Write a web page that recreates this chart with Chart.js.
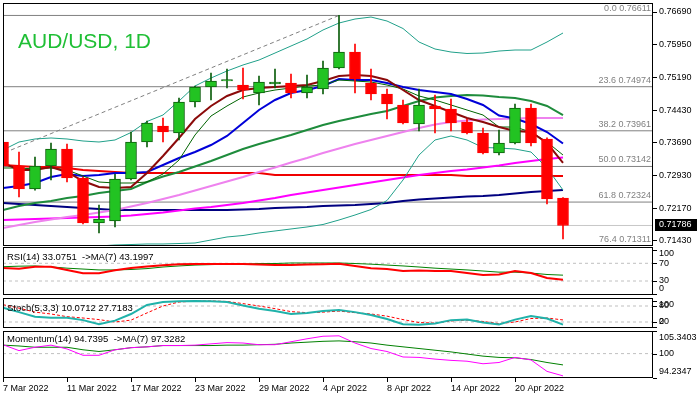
<!DOCTYPE html>
<html>
<head>
<meta charset="utf-8">
<script src="https://cdn.jsdelivr.net/npm/chart.js@4.4.1/dist/chart.umd.min.js"></script>
<style>
  body { margin: 0; background: #fff; width: 697px; height: 396px; position: relative; overflow: hidden;
         font-family: "Liberation Sans", Arial, sans-serif; }
  canvas { position: absolute; left: 0; }
  .cap { position: absolute; left: 7px; font-size: 9.5px; line-height: 11px; color: #000; white-space: pre; }
  #title { position: absolute; left: 18px; top: 30px; font-size: 21px; line-height: 21px; color: #1fbf35; }
</style>
</head>
<body>
<canvas id="main" width="697" height="248" style="top:0"></canvas>
<canvas id="rsiC" width="697" height="52" style="top:246px"></canvas>
<canvas id="stoC" width="697" height="33" style="top:297px"></canvas>
<canvas id="momC" width="697" height="66" style="top:330px"></canvas>
<div id="title">AUD/USD, 1D</div>
<div class="cap" id="rsiCap" style="top:251px"></div>
<div class="cap" id="stoCap" style="top:302px"></div>
<div class="cap" id="momCap" style="top:333px"></div>
<script>
// daily bars, 7 Mar - 25 Apr 2022
const dates = ['7 Mar 2022','8 Mar 2022','9 Mar 2022','10 Mar 2022','11 Mar 2022',
  '14 Mar 2022','15 Mar 2022','16 Mar 2022','17 Mar 2022','18 Mar 2022',
  '21 Mar 2022','22 Mar 2022','23 Mar 2022','24 Mar 2022','25 Mar 2022',
  '28 Mar 2022','29 Mar 2022','30 Mar 2022','31 Mar 2022','1 Apr 2022',
  '4 Apr 2022','5 Apr 2022','6 Apr 2022','7 Apr 2022','8 Apr 2022',
  '11 Apr 2022','12 Apr 2022','13 Apr 2022','14 Apr 2022','15 Apr 2022',
  '18 Apr 2022','19 Apr 2022','20 Apr 2022','21 Apr 2022','22 Apr 2022','25 Apr 2022'];
const dateTicks = [0, 4, 8, 12, 16, 20, 24, 28, 32];

const open  = [0.73704,0.73153,0.72624,0.73153,0.73543,0.72877,0.71843,0.71889,0.72854,0.73704,0.74071,0.73911,0.74623,0.74967,0.75105,0.75013,0.74829,0.75036,0.75059,0.74829,0.74921,0.75404,0.75771,0.75059,0.74806,0.74554,0.74117,0.74531,0.74462,0.74163,0.73911,0.73451,0.73681,0.74485,0.73773,0.72418];
const high  = [0.74393,0.73474,0.73359,0.73681,0.73658,0.72900,0.72257,0.72969,0.73934,0.74186,0.74255,0.74715,0.74990,0.75289,0.75381,0.75404,0.75220,0.75381,0.75266,0.75243,0.75565,0.76611,0.75955,0.75381,0.74921,0.74669,0.74921,0.74784,0.74692,0.74232,0.74025,0.73979,0.74577,0.74577,0.73800,0.72430];
const low   = [0.73061,0.72441,0.72600,0.72831,0.72785,0.71820,0.71614,0.71752,0.72831,0.73589,0.73704,0.73750,0.74508,0.74669,0.74944,0.74692,0.74554,0.74944,0.74715,0.74715,0.74806,0.75380,0.74829,0.74669,0.74232,0.74120,0.73957,0.73911,0.73957,0.73888,0.73428,0.73405,0.73658,0.73612,0.72280,0.71476];
const close = [0.73153,0.72624,0.73153,0.73543,0.72877,0.71843,0.71935,0.72854,0.73704,0.74140,0.73934,0.74623,0.74967,0.75105,0.75140,0.74898,0.75082,0.75082,0.74829,0.74967,0.75404,0.75771,0.75151,0.74806,0.74577,0.74140,0.74554,0.74462,0.74140,0.73911,0.73451,0.73681,0.74485,0.73681,0.72395,0.71786];

// moving averages on the price chart
const maFast    = [0.73222,0.73061,0.73061,0.73130,0.73015,0.72808,0.72670,0.72647,0.72670,0.72992,0.73382,0.73796,0.74232,0.74531,0.74761,0.74898,0.74944,0.74967,0.74990,0.75013,0.75105,0.75220,0.75243,0.75220,0.75128,0.74898,0.74669,0.74531,0.74393,0.74255,0.74163,0.74048,0.73957,0.73934,0.73681,0.73222];
const maTen     = [0.73107,0.73107,0.73084,0.73107,0.73061,0.72923,0.72785,0.72762,0.72762,0.72785,0.72969,0.73290,0.73865,0.74301,0.74531,0.74738,0.74829,0.74898,0.74944,0.74990,0.75013,0.75128,0.75105,0.75082,0.75013,0.74921,0.74761,0.74669,0.74554,0.74439,0.74324,0.74048,0.74048,0.73934,0.73704,0.73405];
const maBlue    = [0.72647,0.72693,0.72762,0.72900,0.72969,0.72923,0.72946,0.72992,0.72992,0.73015,0.73176,0.73336,0.73474,0.73635,0.73842,0.74140,0.74439,0.74669,0.74829,0.74898,0.74990,0.75151,0.75128,0.75128,0.75059,0.74967,0.74898,0.74852,0.74806,0.74692,0.74554,0.74313,0.74244,0.74117,0.73934,0.73670];
const bbMid     = [0.72142,0.72234,0.72303,0.72349,0.72418,0.72464,0.72532,0.72578,0.72624,0.72785,0.72912,0.73015,0.73142,0.73267,0.73405,0.73543,0.73658,0.73762,0.73865,0.73979,0.74094,0.74186,0.74267,0.74347,0.74416,0.74531,0.74646,0.74726,0.74761,0.74784,0.74772,0.74738,0.74715,0.74646,0.74531,0.74324];
const bbUp      = [0.73520,0.73704,0.73773,0.73796,0.73773,0.73727,0.73704,0.73750,0.73922,0.74175,0.74324,0.74646,0.74990,0.75174,0.75335,0.75473,0.75587,0.75748,0.75909,0.76070,0.76277,0.76437,0.76529,0.76575,0.76483,0.76311,0.76001,0.75840,0.75771,0.75737,0.75748,0.75794,0.75817,0.75817,0.76001,0.76208];
const bbLow     = [0.70764,0.70764,0.70833,0.70948,0.71062,0.71200,0.71315,0.71338,0.71349,0.71361,0.71361,0.71372,0.71384,0.71453,0.71522,0.71556,0.71614,0.71660,0.71706,0.71752,0.71809,0.71912,0.72027,0.72153,0.72360,0.72831,0.73405,0.73750,0.73842,0.73750,0.73578,0.73566,0.73543,0.73474,0.73107,0.72601];
const maViolet  = [0.71729,0.71798,0.71867,0.71924,0.71981,0.72027,0.72084,0.72142,0.72222,0.72303,0.72395,0.72486,0.72590,0.72693,0.72797,0.72900,0.73015,0.73118,0.73233,0.73336,0.73451,0.73555,0.73658,0.73750,0.73842,0.73934,0.74025,0.74106,0.74163,0.74198,0.74221,0.74232,0.74244,0.74255,0.74255,0.74255];
const maMagenta = [0.71912,0.71924,0.71935,0.71947,0.71958,0.71970,0.71981,0.71993,0.72016,0.72050,0.72084,0.72130,0.72176,0.72211,0.72257,0.72303,0.72360,0.72418,0.72486,0.72544,0.72601,0.72659,0.72716,0.72774,0.72831,0.72889,0.72946,0.72992,0.73038,0.73072,0.73118,0.73164,0.73222,0.73267,0.73313,0.73348];
const maNavy    = [0.72303,0.72280,0.72257,0.72234,0.72211,0.72188,0.72165,0.72142,0.72142,0.72142,0.72142,0.72142,0.72142,0.72142,0.72142,0.72153,0.72165,0.72188,0.72199,0.72211,0.72234,0.72245,0.72257,0.72280,0.72303,0.72349,0.72383,0.72406,0.72429,0.72452,0.72464,0.72486,0.72521,0.72555,0.72578,0.72601];
const maRed     = [0.73176,0.73153,0.73130,0.73130,0.73107,0.73061,0.73038,0.73015,0.72992,0.72992,0.72992,0.72992,0.72992,0.72992,0.72992,0.72992,0.72992,0.72946,0.72946,0.72946,0.72946,0.72946,0.72946,0.72946,0.72946,0.72946,0.72946,0.72946,0.72946,0.72923,0.72923,0.72923,0.72923,0.72923,0.72923,0.72923];

// fibonacci retracement (28 Jan low -> 5 Apr high)
const fibPct   = ['0.0', '23.6', '38.2', '50.0', '61.8', '76.4'];
const fibLevel = [0.76611, 0.74974, 0.73961, 0.73142, 0.72324, 0.71311];
const fibTrendX = [-25, 21];
const fibTrendY = [0.69675, 0.76611];
const priceTicks = [0.76690, 0.75950, 0.75190, 0.74430, 0.73690, 0.72930, 0.72170, 0.71430];

// oscillators
const rsi    = [59.3,57.8,62.3,62.3,54.9,47.4,47.4,54.2,59.4,63,65.7,67.7,68.4,68.4,68.4,68.4,67,66,66,67,68,69,64,59,57,52.6,54,52.6,52.6,48,43.6,44.6,52.6,48,37,33.0751];
const rsiMa  = [62.3,63.5,64,62,59,57,55,55,56,58,61.6,64,66,67,68,68,69.5,69.5,70.7,70.7,70.7,70.7,69.5,68,66,64,61.6,59,57,55,52.6,50,50,48,44.7,43.1997];
const stochK = [74,57,40,36,36,27,12,25,50,84,95,98,99,98,95,82,70,61,50,54,61,65,57,46,31,12,10,14,27,29,18,11,29,42,33,10.0712];
const stochD = [85,72,57,50,40,35,29,20,27,54,80,95,98,99,97,89,80,70,59,55,57,61,55,50,42,29,18,16,24,27,22,14,20,33,35,27.7183];
const mom    = [102.1,100.7,101.5,102.0,101.1,99.6,99.6,100.9,101.4,101.6,101.9,101.9,102.0,102.3,102.6,102.5,102.1,102.1,102.8,103.5,104.1,104.2,102.5,101.2,100.5,99.2,99.1,98.7,98.4,98.2,97.6,97.9,99.1,98.5,95.8,94.7395];
const momMa  = [102.0,101.8,101.5,101.5,101.5,100.9,100.5,100.9,101.4,101.6,101.9,101.9,101.9,101.9,102.0,102.0,102.1,102.2,102.5,102.7,102.9,103.0,102.8,102.5,102.0,101.6,101.2,100.8,100.4,99.9,99.4,99.1,99.0,98.6,97.9,97.3282];

const FONT = '"Liberation Sans", Arial, sans-serif';
Chart.defaults.font.family = FONT;
const X_MIN = 0, X_MAX = 40.625;   // 16px per bar over a 650px plot
const UP = '#22c322', UP_EDGE = '#0b5d0b', DOWN = '#ff0000';

const xy = arr => arr.map((v, i) => ({ x: i, y: v }));
const flat = v => [{ x: X_MIN, y: v }, { x: X_MAX, y: v }];
const line = (data, color, width, order, extra) => Object.assign({
  type: 'line', data, borderColor: color, borderWidth: width, pointRadius: 0,
  tension: 0, fill: false, order
}, extra || {});
const last = a => a[a.length - 1];

// black box round each panel
const framePlugin = {
  id: 'frame',
  afterDraw(chart) {
    const { ctx, chartArea: a } = chart;
    ctx.save();
    ctx.strokeStyle = '#000'; ctx.lineWidth = 1;
    ctx.strokeRect(Math.round(a.left) + 0.5, Math.round(a.top) + 0.5,
                   Math.round(a.width) - 1, Math.round(a.height) - 1);
    ctx.restore();
  }
};

// fib level captions and the last price box
const pricePlugin = {
  id: 'priceText',
  afterDraw(chart) {
    const { ctx, chartArea: a } = chart, y = chart.scales.y;
    ctx.save();
    ctx.font = '9px ' + FONT;
    ctx.fillStyle = '#808080'; ctx.textAlign = 'right'; ctx.textBaseline = 'bottom';
    fibLevel.forEach((v, k) => {
      ctx.fillText(fibPct[k] + ' ' + v.toFixed(5), a.right - 2, y.getPixelForValue(v) - 2);
    });
    const py = Math.round(y.getPixelForValue(last(close)));
    ctx.fillStyle = '#000';
    ctx.fillRect(a.right + 2, py - 6, chart.width - a.right - 2, 12);
    ctx.fillStyle = '#fff'; ctx.textAlign = 'left'; ctx.textBaseline = 'middle';
    ctx.fillText(last(close).toFixed(5), a.right + 6, py);
    ctx.restore();
  }
};

// right-hand labels of the indicator panels, kept inside the panel like the terminal does
const sidePlugin = {
  id: 'sideLabels',
  afterDraw(chart, args, opts) {
    if (!opts.values) return;
    const { ctx, chartArea: a } = chart, y = chart.scales.y;
    ctx.save();
    ctx.font = '9px ' + FONT;
    ctx.fillStyle = '#000'; ctx.textAlign = 'left'; ctx.textBaseline = 'middle';
    opts.values.forEach((v, k) => {
      const p = y.getPixelForValue(v);
      ctx.fillRect(a.right, Math.round(p), 4, 1);
      ctx.fillText(opts.labels[k], a.right + 6, Math.min(Math.max(p, a.top + 7), a.bottom - 6));
    });
    ctx.restore();
  }
};

const baseOpts = (pad, yMin, yMax, side) => ({
  responsive: false, animation: false, events: [],
  layout: { padding: pad },
  plugins: { legend: { display: false }, tooltip: { enabled: false }, sideLabels: side || {} },
  scales: {
    x: { type: 'linear', display: false, min: X_MIN, max: X_MAX, offset: false },
    y: { display: false, min: yMin, max: yMax }
  }
});

// ---- price panel
const idx = close.map((_, i) => i);
const isUp = i => close[i] >= open[i];
const mainOpts = baseOpts({ left: 3, top: 3, bottom: 2, right: 0 }, 0.71315, 0.76897);
mainOpts.scales.y = {
  position: 'right', min: 0.71315, max: 0.76897,
  afterBuildTicks: s => { s.ticks = priceTicks.map(v => ({ value: v })); },
  afterFit: s => { s.width = 44; s.paddingTop = 0; s.paddingBottom = 0; },
  grid: { drawOnChartArea: false, tickLength: 4, color: '#000' },
  border: { display: false },
  ticks: { padding: 2, color: '#000', font: { size: 9 }, autoSkip: false, callback: v => v.toFixed(5) }
};
new Chart(document.getElementById('main'), {
  type: 'bar',
  data: { datasets: [
    { type: 'bar', data: idx.map(i => ({ x: i, y: [open[i], close[i]] })),
      backgroundColor: idx.map(i => isUp(i) ? UP : DOWN),
      borderColor: idx.map(i => isUp(i) ? UP_EDGE : DOWN),
      borderWidth: 1, borderSkipped: false, barThickness: 11, grouped: false, order: 0 },
    { type: 'bar', data: idx.map(i => ({ x: i, y: [low[i], high[i]] })),
      backgroundColor: idx.map(i => isUp(i) ? UP_EDGE : DOWN),
      borderWidth: 0, barThickness: 1, grouped: false, order: 1 },
    line(xy(maFast), '#8b0a0a', 2, 2),
    line(xy(maTen), '#006400', 1, 3),
    line(xy(maBlue), '#0000d8', 2, 4),
    line(xy(bbMid), '#1e8c3c', 2, 5),
    line(xy(bbUp), '#20a08a', 1, 6),
    line(xy(bbLow), '#20a08a', 1, 6),
    line(xy(maViolet), '#ee82ee', 2, 7),
    line(xy(maMagenta), '#ff00ff', 2, 7),
    line(xy(maNavy), '#000080', 2, 8),
    line(xy(maRed), '#f00000', 2, 8),
    line(fibTrendX.map((x, k) => ({ x, y: fibTrendY[k] })), '#808080', 1, 9, { borderDash: [4, 3] }),
    ...fibLevel.map(v => line(flat(v), '#808080', 1, 10)),
    line(flat(last(close)), '#c8c8c8', 1, 10)
  ] },
  options: mainOpts,
  plugins: [framePlugin, pricePlugin]
});

// ---- RSI
new Chart(document.getElementById('rsiC'), {
  type: 'line',
  data: { datasets: [
    line(xy(rsi), '#ff0000', 2, 1),
    line(xy(rsiMa), '#008000', 1, 2),
    line(flat(70), '#c0c0c0', 1, 3, { borderDash: [3, 3] }),
    line(flat(30), '#c0c0c0', 1, 3, { borderDash: [3, 3] })
  ] },
  options: baseOpts({ left: 3, top: 1, bottom: 3, right: 44 }, -1.6, 106.8,
    { values: [100, 70, 30, 0], labels: ['100', '70', '30', '0'] }),
  plugins: [framePlugin, sidePlugin]
});

// ---- Stochastic
new Chart(document.getElementById('stoC'), {
  type: 'line',
  data: { datasets: [
    line(xy(stochK), '#20b2aa', 2, 1),
    line(xy(stochD), '#ff0000', 1, 2, { borderDash: [3, 2] }),
    line(flat(80), '#c0c0c0', 1, 3, { borderDash: [3, 3] }),
    line(flat(20), '#c0c0c0', 1, 3, { borderDash: [3, 3] })
  ] },
  options: baseOpts({ left: 3, top: 1, bottom: 2, right: 44 }, -2.5, 110,
    { values: [100, 80, 20, 0], labels: ['100', '80', '20', '0'] }),
  plugins: [framePlugin, sidePlugin]
});

// ---- Momentum + date axis
const momOpts = baseOpts({ left: 3, top: 1, bottom: 0, right: 44 }, 94.2347, 105.3403,
  { values: [105.3403, 100, 94.2347], labels: ['105.3403', '100', '94.2347'] });
momOpts.scales.x = {
  type: 'linear', min: X_MIN, max: X_MAX, offset: false,
  afterBuildTicks: s => { s.ticks = dateTicks.map(v => ({ value: v })); },
  afterFit: s => { s.height = 18; s.paddingLeft = 0; s.paddingRight = 0; },
  grid: { drawOnChartArea: false, tickLength: 4, color: '#000' },
  border: { display: false },
  ticks: { align: 'start', autoSkip: false, maxRotation: 0, padding: 1, color: '#000',
           font: { size: 9 }, callback: v => dates[v] }
};
new Chart(document.getElementById('momC'), {
  type: 'line',
  data: { datasets: [
    line(xy(mom), '#ff00ff', 1, 1),
    line(xy(momMa), '#008000', 1, 2),
    line(flat(100), '#c0c0c0', 1, 3, { borderDash: [3, 3] })
  ] },
  options: momOpts,
  plugins: [framePlugin, sidePlugin]
});

document.getElementById('rsiCap').textContent = `RSI(14) ${last(rsi)}  ->MA(7) ${last(rsiMa)}`;
document.getElementById('stoCap').textContent = `Stoch(5,3,3) ${last(stochK)} ${last(stochD)}`;
document.getElementById('momCap').textContent = `Momentum(14) ${last(mom)}  ->MA(7) ${last(momMa)}`;
</script>
</body>
</html>
